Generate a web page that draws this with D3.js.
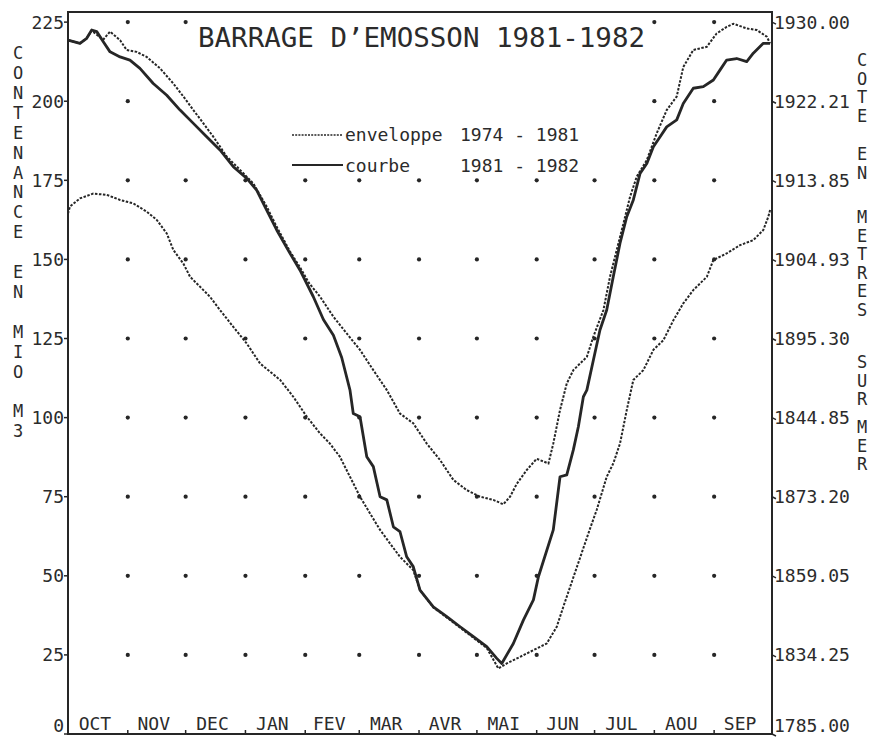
<!DOCTYPE html>
<html>
<head>
<meta charset="utf-8">
<script src="https://cdn.jsdelivr.net/npm/d3@7"></script>
<style>
  body { margin: 0; background: #fff; }
  text { font-family: "DejaVu Sans Mono", monospace; fill: #2b2b2b; }
</style>
</head>
<body>
<div id="chart"></div>
<script>
// hydrological year, days counted from 1 october
var months = ["OCT", "NOV", "DEC", "JAN", "FEV", "MAR", "AVR", "MAI", "JUN", "JUL", "AOU", "SEP"];
var monthStarts = [0, 31, 61, 92, 123, 151, 182, 212, 243, 273, 304, 335, 365];

var leftTicks = [0, 25, 50, 75, 100, 125, 150, 175, 200, 225];
var rightLabels = ["1785.00", "1834.25", "1859.05", "1873.20", "1844.85", "1895.30", "1904.93", "1913.85", "1922.21", "1930.00"];

// courbe 1981 - 1982 : [day, mio m3]
var courbe = [[0, 219.3], [6.2, 218.3], [9.7, 219.9], [12.3, 222.5], [14.9, 222], [18.3, 218.8], [21.8, 215.6],
    [27, 214], [32.1, 213], [37.3, 210.4], [44.2, 205.6], [51.2, 201.9], [58.1, 197.2], [65, 193], [71.9, 188.8],
    [78.8, 184.6], [85.7, 179.3], [92.7, 175.6], [97.8, 171.9], [103, 165.6], [108.2, 159.3], [115.1, 151.9],
    [120.3, 146.6], [127.2, 138.2], [132.4, 131], [137.6, 126], [141.9, 119], [146.2, 108.7], [147.9, 101.3],
    [151.4, 100.3], [154.9, 87.6], [158.3, 84.5], [161.8, 75], [165.3, 74], [168.7, 65.5], [172.1, 64],
    [175.6, 56], [179, 52.9], [182.5, 45.5], [189.4, 40.2], [196.4, 37.1], [203.3, 33.9], [210.2, 30.8],
    [217.1, 27.6], [222.3, 23.9], [224.9, 22.3], [230.9, 28.6], [236.1, 36], [241.3, 42.4], [243.9, 49.7],
    [251.6, 64.5], [255.1, 81.3], [258.6, 81.9], [262, 89.8], [264.6, 97.1], [267.2, 106.6], [269, 108.7],
    [272.4, 118.2], [275.8, 127.7], [279.3, 134], [282.7, 144.5], [286.2, 155.1], [289.7, 163.5], [293.1, 168.8],
    [296.6, 177.2], [300.1, 180.3], [303.5, 185.6], [307, 188.8], [310.4, 191.9], [315.6, 194.1], [319, 199.3],
    [324.2, 204.1], [329.4, 204.6], [334.6, 206.7], [338.1, 209.9], [341.5, 213], [346.7, 213.5], [351.9, 212.5],
    [355.3, 215.2], [360.5, 218.3], [364, 218.3]];

// enveloppe 1974 - 1981, upper bound
var envHaut = [[0, 219.3], [6.2, 218.3], [9.7, 219.9], [12.3, 222.3], [14.9, 221], [18.3, 219.5], [21.8, 222],
    [27, 219.3], [30.4, 216.2], [35.6, 215.6], [40.8, 214], [47.7, 210.4], [54.6, 205.6], [59.8, 201.5],
    [65, 197.2], [70.2, 193], [75.3, 188.8], [82.3, 182.5], [89.2, 178.3], [96.1, 174], [103, 166.7],
    [108.2, 160.3], [115.1, 152.5], [120.3, 147.5], [125, 142.5], [130.7, 138.2], [137.6, 131.9], [144.5, 126.6],
    [151.4, 121.4], [158.3, 115], [165.3, 108.7], [172.1, 101.3], [179, 98.2], [186, 91.8], [192.9, 86.6],
    [199.8, 80.3], [206.7, 77.1], [213.6, 75], [220.5, 74], [225.7, 72.6], [229.2, 75], [232.6, 79],
    [237.8, 83.4], [243, 87], [249.1, 85.5], [251.6, 91.8], [255.1, 102.4], [258.6, 110.8], [262, 115],
    [269, 119.2], [272.4, 125.6], [277.6, 134], [281, 144.5], [284.5, 153], [288, 161.4], [291.4, 169.8],
    [294.9, 176.2], [300.1, 181.4], [305.2, 189.8], [310.4, 197.2], [315.6, 201.5], [319, 210.8], [324.2, 216.2],
    [331.2, 217.2], [336.3, 221.4], [341.5, 223.5], [345, 224.5], [351.9, 223], [357.1, 222.5], [362.3, 220.4],
    [364, 218.3]];

// enveloppe 1974 - 1981, lower bound
var envBas = [[0, 164.5], [1, 166.7], [6.2, 169.3], [13.1, 170.8], [20.1, 170.4], [27, 168.8], [33.9, 167.7],
    [40.8, 165.1], [46, 162.5], [51.2, 158.2], [54.6, 153], [59.8, 148.7], [63.3, 144.5], [68.4, 141.4],
    [73.6, 138.2], [78.8, 134], [85.7, 128.7], [92.7, 123.4], [99.6, 117.1], [110, 111.9], [116.8, 106.6],
    [123.8, 100.3], [130.7, 95], [135.8, 91.8], [141, 87.6], [146.2, 81.3], [151.4, 75], [156.6, 69.7],
    [161.8, 64.5], [167, 60.2], [172.1, 56], [179, 51.8], [182.5, 45.5], [189.4, 40], [196.4, 36.8],
    [203.3, 33.6], [210.2, 30.4], [217.1, 27.2], [223.1, 20.7], [227.5, 22.3], [234.4, 24.4], [241.3, 26.5],
    [248.2, 28.6], [253.4, 33.9], [256.8, 40.2], [270.7, 65], [274.1, 70.8], [279.3, 81.3], [282.7, 85.5],
    [286.2, 91.8], [289.7, 102.4], [293.1, 111.9], [298.3, 115], [303.5, 121.4], [308.7, 124.5], [313.9, 130.8],
    [319, 136.1], [324.2, 140.3], [331.2, 144.5], [334.6, 149.8], [341.5, 151.9], [348.4, 154.5], [355.3, 156.1],
    [360.5, 159.3], [363.1, 163.5], [364, 165.6]];

var leftTitle = "CONTENANCE EN MIO M3";
var rightWords = ["COTE", "EN", "METRES", "SUR", "MER"];

var width = 877, height = 737;
var ink = "#262626";

var svg = d3.select("#chart").append("svg")
    .attr("width", width)
    .attr("height", height);

var x = d3.scaleLinear().domain([0, 365]).range([68, 772]);
var y = d3.scaleLinear().domain([0, 228.2]).range([734, 12]);

// grid of dots at each month boundary / tick level
var dots = [];
leftTicks.slice(1).forEach(function(v) {
    monthStarts.slice(1, 12).forEach(function(d) {
        dots.push([d, v]);
    });
});
svg.append("g").selectAll("circle")
    .data(dots)
    .enter().append("circle")
    .attr("cx", function(d) { return x(d[0]); })
    .attr("cy", function(d) { return y(d[1]); })
    .attr("r", 2.1)
    .attr("fill", ink);

// title and legend areas are left blank by the plotter
svg.append("rect").attr("x", 190).attr("y", 13).attr("width", 458).attr("height", 40).attr("fill", "#fff");
svg.append("rect").attr("x", 180).attr("y", 88).attr("width", 425).attr("height", 88).attr("fill", "#fff");

var line = d3.line()
    .x(function(d) { return x(d[0]); })
    .y(function(d) { return y(d[1]); });

svg.append("path").datum(envHaut)
    .attr("d", line)
    .attr("fill", "none")
    .attr("stroke", ink)
    .attr("stroke-width", 2)
    .attr("stroke-dasharray", "2.5,1.5");

svg.append("path").datum(envBas)
    .attr("d", line)
    .attr("fill", "none")
    .attr("stroke", ink)
    .attr("stroke-width", 2)
    .attr("stroke-dasharray", "2.5,1.5");

svg.append("path").datum(courbe)
    .attr("d", line)
    .attr("fill", "none")
    .attr("stroke", ink)
    .attr("stroke-width", 2.8)
    .attr("stroke-linejoin", "round");

// frame
svg.append("rect")
    .attr("x", x(0)).attr("y", y(228.2))
    .attr("width", x(365) - x(0)).attr("height", y(0) - y(228.2))
    .attr("fill", "none")
    .attr("stroke", ink)
    .attr("stroke-width", 2);

// axis ticks
var ticks = svg.append("g").attr("stroke", ink).attr("stroke-width", 1.5);
leftTicks.forEach(function(v) {
    ticks.append("line").attr("x1", x(0) - 4).attr("x2", x(0)).attr("y1", y(v)).attr("y2", y(v));
    ticks.append("line").attr("x1", x(365)).attr("x2", x(365) + 4).attr("y1", y(v)).attr("y2", y(v) + 2);
});
monthStarts.slice(1, 12).forEach(function(d) {
    ticks.append("line").attr("x1", x(d)).attr("x2", x(d)).attr("y1", y(0) - 4).attr("y2", y(0));
});

// tick labels
function labelY(v) {
    return Math.max(17, Math.min(726, y(v)));
}
svg.append("g").selectAll("text")
    .data(leftTicks)
    .enter().append("text")
    .attr("x", x(0) - 4)
    .attr("y", labelY)
    .attr("dy", "0.36em")
    .attr("text-anchor", "end")
    .style("font-size", "18px")
    .text(function(d) { return d; });

svg.append("g").selectAll("text")
    .data(rightLabels)
    .enter().append("text")
    .attr("x", x(365) + 2)
    .attr("y", function(d, i) { return labelY(leftTicks[i]); })
    .attr("dy", "0.36em")
    .style("font-size", "18px")
    .text(function(d) { return d; });

svg.append("g").selectAll("text")
    .data(months)
    .enter().append("text")
    .attr("x", function(d, i) { return (x(monthStarts[i]) + x(monthStarts[i + 1])) / 2 - 3; })
    .attr("y", 730)
    .attr("text-anchor", "middle")
    .style("font-size", "18px")
    .text(function(d) { return d; });

// vertical axis titles, one letter per row
svg.append("g").selectAll("text")
    .data(leftTitle.split(""))
    .enter().append("text")
    .attr("x", 18)
    .attr("y", function(d, i) { return 53 + i * 19.9; })
    .attr("dy", "0.36em")
    .attr("text-anchor", "middle")
    .style("font-size", "17px")
    .text(function(d) { return d; });

var wordTops = [60, 154, 217, 362, 427];
var rightLetters = [];
rightWords.forEach(function(w, k) {
    w.split("").forEach(function(c, i) {
        rightLetters.push({ c: c, y: wordTops[k] + i * 18.5 });
    });
});
svg.append("g").selectAll("text")
    .data(rightLetters)
    .enter().append("text")
    .attr("x", 862)
    .attr("y", function(d) { return d.y; })
    .attr("dy", "0.36em")
    .attr("text-anchor", "middle")
    .style("font-size", "17px")
    .text(function(d) { return d.c; });

// title
svg.append("text")
    .attr("x", 198)
    .attr("y", 47)
    .attr("textLength", 447)
    .attr("lengthAdjust", "spacingAndGlyphs")
    .style("font-size", "27px")
    .text("BARRAGE D\u2019EMOSSON 1981-1982");

// legend
var legend = svg.append("g");
legend.append("line")
    .attr("x1", 292).attr("x2", 343).attr("y1", 135).attr("y2", 135)
    .attr("stroke", ink).attr("stroke-width", 1.6).attr("stroke-dasharray", "2,1.2");
legend.append("line")
    .attr("x1", 292).attr("x2", 343).attr("y1", 165).attr("y2", 165)
    .attr("stroke", ink).attr("stroke-width", 2);
legend.append("text").attr("x", 345).attr("y", 141).style("font-size", "18px").text("enveloppe");
legend.append("text").attr("x", 460).attr("y", 141).style("font-size", "18px").text("1974 - 1981");
legend.append("text").attr("x", 345).attr("y", 172).style("font-size", "18px").text("courbe");
legend.append("text").attr("x", 460).attr("y", 172).style("font-size", "18px").text("1981 - 1982");
</script>
</body>
</html>
